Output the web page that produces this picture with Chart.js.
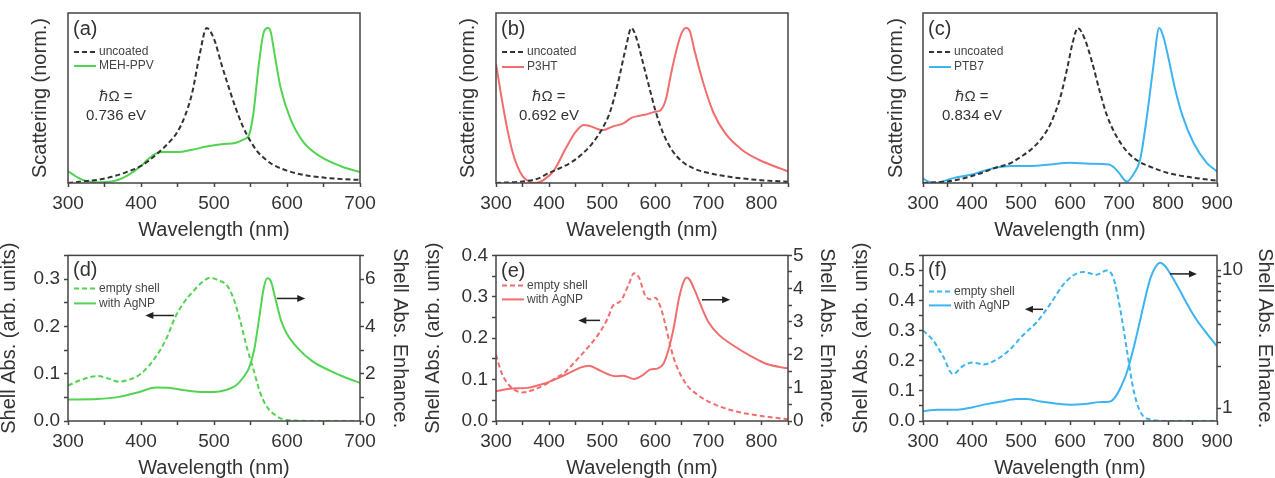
<!DOCTYPE html>
<html>
<head>
<meta charset="utf-8">
<script src="https://cdn.jsdelivr.net/npm/chart.js@4.4.1/dist/chart.umd.min.js"></script>
<style>
  body { margin: 0; background: #fff; width: 1275px; height: 478px; overflow: hidden; position: relative; }
  canvas { position: absolute; }
</style>
</head>
<body>
<canvas id="panelA"></canvas>
<canvas id="panelB"></canvas>
<canvas id="panelC"></canvas>
<canvas id="panelD"></canvas>
<canvas id="panelE"></canvas>
<canvas id="panelF"></canvas>
<script>
// ---- data ----
// (a) MEH-PPV
const aUncoatedWl = [300,320,340,360,380,400,420,440,450,460,470,480,490,500,510,520,530,540,550,560,570,580,600,625,650,675,700];
const aUncoated = [0.0,0.01,0.02,0.04,0.07,0.11,0.18,0.27,0.33,0.43,0.58,0.82,1.0,0.93,0.77,0.62,0.48,0.36,0.27,0.20,0.155,0.12,0.08,0.05,0.035,0.025,0.02];
const aPolymerWl = [300,310,320,340,360,380,400,410,420,430,450,470,490,510,530,540,548,554,561,568,574,578,582,591,605,623,646,673,700];
const aPolymer = [0.075,0.045,0.02,0.005,0.01,0.045,0.11,0.155,0.19,0.2,0.2,0.215,0.235,0.25,0.26,0.28,0.31,0.45,0.75,0.97,1.0,0.97,0.86,0.62,0.41,0.26,0.17,0.11,0.07];

// (b) P3HT
const bUncoatedWl = [300,350,380,400,420,440,460,480,500,515,530,545,555,565,575,590,600,615,630,650,675,700,750,800,850];
const bUncoated = [0.0,0.01,0.03,0.065,0.095,0.13,0.18,0.25,0.35,0.46,0.65,0.88,1.0,0.93,0.80,0.60,0.47,0.32,0.22,0.14,0.09,0.065,0.035,0.018,0.008];
const bPolymerWl = [300,310,320,330,340,350,365,375,390,410,430,450,465,475,490,500,520,540,555,565,580,600,610,620,630,640,650,658,665,675,690,710,732,763,795,850];
const bPolymer = [0.77,0.56,0.37,0.215,0.11,0.045,0.005,0.0,0.02,0.085,0.215,0.33,0.375,0.37,0.35,0.34,0.365,0.385,0.42,0.43,0.44,0.46,0.47,0.54,0.71,0.86,0.97,1.0,0.98,0.84,0.65,0.45,0.32,0.215,0.15,0.075];

// (c) PTB7
const cUncoatedWl = [300,330,350,400,450,480,500,520,540,560,580,595,605,616,630,645,660,675,690,705,720,740,760,800,850,900];
const cUncoated = [0.0,0.005,0.01,0.045,0.10,0.13,0.17,0.215,0.28,0.38,0.55,0.75,0.9,1.0,0.93,0.78,0.6,0.44,0.33,0.25,0.19,0.14,0.11,0.065,0.035,0.015];
const cPolymerWl = [300,310,325,340,360,400,450,480,520,560,600,640,680,690,700,716,730,743,757,770,782,790,800,815,830,852,879,900];
const cPolymer = [0.03,0.01,0.0,0.01,0.03,0.055,0.10,0.11,0.11,0.12,0.13,0.125,0.12,0.10,0.065,0.01,0.06,0.15,0.43,0.75,1.0,0.95,0.82,0.6,0.43,0.26,0.13,0.075];

// (d) empty shell (left axis) / with AgNP (right axis)
const dEmptyWl = [300,320,340,355,370,385,400,420,435,447,460,472,485,495,505,518,527,536,545,554,563,572,586,600,650,700];
const dEmpty = [0.075,0.088,0.095,0.09,0.083,0.088,0.10,0.135,0.175,0.22,0.253,0.275,0.295,0.303,0.298,0.286,0.258,0.211,0.156,0.109,0.061,0.031,0.01,0.002,0.0,0.0];
const dAgWl = [300,340,370,400,420,440,460,480,500,515,530,540,548,555,562,568,573,578,584,592,600,615,635,660,680,700];
const dAg = [0.91,0.93,1.02,1.25,1.42,1.40,1.30,1.23,1.23,1.30,1.50,1.84,2.25,3.0,4.37,5.6,6.03,5.9,5.18,4.23,3.68,3.07,2.52,2.11,1.84,1.61];

// (e)
const eEmptyWl = [300,310,320,335,350,370,390,410,430,450,470,490,510,520,535,550,560,570,580,590,600,610,620,630,640,660,680,700,740,780,850];
const eEmpty = [0.16,0.118,0.094,0.075,0.069,0.075,0.086,0.102,0.118,0.145,0.173,0.204,0.247,0.278,0.29,0.33,0.357,0.345,0.306,0.294,0.298,0.275,0.227,0.173,0.133,0.086,0.063,0.047,0.027,0.016,0.004];
const eAgWl = [300,330,360,380,400,420,440,460,475,490,510,525,540,560,575,590,605,615,625,635,645,655,660,665,675,690,700,720,750,780,810,850];
const eAg = [0.90,0.98,1.0,1.08,1.18,1.32,1.47,1.62,1.67,1.57,1.42,1.35,1.37,1.27,1.37,1.55,1.59,1.72,2.16,2.84,3.73,4.26,4.33,4.26,3.92,3.33,2.99,2.6,2.25,1.96,1.72,1.59];

// (f)
const fEmptyWl = [300,320,341,361,382,402,423,450,477,504,532,559,586,607,627,654,675,689,702,716,729,743,764,800,900];
const fEmpty = [0.301,0.269,0.215,0.156,0.183,0.194,0.188,0.204,0.237,0.285,0.328,0.387,0.452,0.484,0.495,0.486,0.5,0.473,0.376,0.237,0.108,0.032,0.005,0.0,0.0];
const fAgWl = [300,330,370,400,430,460,490,510,540,570,600,630,660,682,695,705,716,729,743,755,764,775,784,795,804,818,832,845,859,879,900];
const fAg = [0.947,0.973,0.973,1.01,1.067,1.115,1.164,1.164,1.115,1.079,1.056,1.067,1.103,1.115,1.24,1.45,1.81,2.65,4.3,6.6,8.7,10.6,11.3,10.6,9.47,7.8,6.3,5.2,4.32,3.47,2.8];

// tick values for the log axis of (f)
const fRightTicks = [1,2,3,4,5,6,7,8,9,10];
const fRightLabels = [1, 10];

// ---- styling ----
const TEXT = '#333';
const FRAME = '#444';
const GREEN = '#52d452';
const RED = '#f26d6d';
const BLUE = '#3cb4f0';
const BLACK = '#333';

Chart.defaults.font.family = '"Liberation Sans", Arial, sans-serif';
Chart.defaults.color = TEXT;

function pts(xs, ys) {
    return xs.map((x, i) => ({ x: x, y: ys[i] }));
}

function isTenth(v) {
    return Math.abs(v * 10 - Math.round(v * 10)) < 1e-6;
}

function dashed(label, color, xs, ys, axis) {
    return { label: label, data: pts(xs, ys), borderColor: color, borderDash: [5, 3], yAxisID: axis || 'y' };
}

function solid(label, color, xs, ys, axis) {
    return { label: label, data: pts(xs, ys), borderColor: color, borderDash: [], yAxisID: axis || 'y' };
}

function xAxis(max, height) {
    return {
        type: 'linear', position: 'bottom', min: 300, max: max,
        afterFit: s => { s.height = height; },
        ticks: {
            stepSize: 50, autoSkip: false, maxRotation: 0, padding: 5,
            font: { size: 19 }, color: TEXT,
            callback: v => (v % 100 === 0 ? String(v) : '')
        },
        grid: { drawOnChartArea: false, tickLength: 4, tickColor: FRAME, tickWidth: 1.5 },
        border: { display: false },
        title: { display: true, text: 'Wavelength (nm)', color: TEXT, font: { size: 20, lineHeight: 1 }, padding: 0 }
    };
}

function leftAxis(opts) {
    const axis = {
        type: 'linear', position: 'left', min: 0, max: opts.max,
        afterFit: s => { s.width = opts.width; },
        border: { display: false },
        title: { display: true, text: opts.title, color: TEXT, font: { size: 20, lineHeight: 1 }, padding: { top: opts.titlePad, bottom: 0 } }
    };
    if (opts.step) {
        axis.ticks = { stepSize: opts.step, autoSkip: false, padding: 4, font: { size: 19 }, color: TEXT,
            callback: v => (isTenth(v) ? v.toFixed(1) : '') };
        axis.grid = { drawOnChartArea: false, tickLength: 4, tickColor: FRAME, tickWidth: 1.5 };
    } else {
        axis.ticks = { display: false };
        axis.grid = { display: false };
    }
    return axis;
}

function rightAxis(opts) {
    const axis = {
        type: opts.log ? 'logarithmic' : 'linear', position: 'right', min: opts.min, max: opts.max,
        afterFit: s => { s.width = opts.width; },
        border: { display: false },
        grid: { drawOnChartArea: false, tickLength: 4, tickColor: FRAME, tickWidth: 1.5 },
        ticks: { autoSkip: false, padding: 1, font: { size: 19 }, color: TEXT, callback: opts.label },
        title: { display: true, text: 'Shell Abs. Enhance.', color: TEXT, font: { size: 20, lineHeight: 1 }, padding: { top: opts.titlePad, bottom: 0 } }
    };
    if (opts.log) {
        axis.afterBuildTicks = s => { s.ticks = fRightTicks.map(v => ({ value: v })); };
    } else {
        axis.ticks.stepSize = opts.step;
    }
    return axis;
}

// frame, panel letter, legend, notes and arrows
const panelDecor = {
    id: 'panelDecor',
    afterDatasetsDraw(chart, args, opts) {
        const { ctx, chartArea: a, scales } = chart;
        ctx.save();
        ctx.strokeStyle = FRAME;
        ctx.lineWidth = 1.5;
        ctx.setLineDash([]);
        ctx.strokeRect(a.left, a.top, a.right - a.left, a.bottom - a.top);

        ctx.fillStyle = TEXT;
        ctx.textBaseline = 'middle';
        ctx.textAlign = 'left';
        ctx.font = '20px "Liberation Sans", Arial, sans-serif';
        ctx.fillText(opts.letter, a.left + 5, a.top + opts.letterDy);

        // legend
        ctx.font = '12px "Liberation Sans", Arial, sans-serif';
        chart.data.datasets.forEach((ds, i) => {
            const y = a.top + opts.legendDy[i];
            ctx.strokeStyle = ds.borderColor;
            ctx.lineWidth = 2;
            ctx.setLineDash(ds.borderDash);
            ctx.beginPath();
            ctx.moveTo(a.left + 6, y);
            ctx.lineTo(a.left + 28, y);
            ctx.stroke();
            ctx.fillStyle = '#444';
            ctx.fillText(ds.label, a.left + 31, y);
        });
        ctx.setLineDash([]);

        // hbar-Omega note
        if (opts.note) {
            ctx.fillStyle = TEXT;
            ctx.textAlign = 'center';
            ctx.font = '15px "Liberation Sans", Arial, sans-serif';
            ctx.fillText(opts.note[0], a.left + opts.noteDx, a.top + 84);
            ctx.fillText(opts.note[1], a.left + opts.noteDx, a.top + 103);
        }

        // arrows pointing to the axis of each curve
        (opts.arrows || []).forEach(ar => {
            const x0 = scales.x.getPixelForValue(ar.from);
            const x1 = scales.x.getPixelForValue(ar.to);
            const y = scales[ar.axis].getPixelForValue(ar.v);
            const dir = Math.sign(x1 - x0);
            ctx.strokeStyle = '#222';
            ctx.fillStyle = '#222';
            ctx.lineWidth = 1.5;
            ctx.beginPath();
            ctx.moveTo(x0, y);
            ctx.lineTo(x1 - dir * 6, y);
            ctx.stroke();
            ctx.beginPath();
            ctx.moveTo(x1, y);
            ctx.lineTo(x1 - dir * 8, y - 3.5);
            ctx.lineTo(x1 - dir * 8, y + 3.5);
            ctx.closePath();
            ctx.fill();
        });
        ctx.restore();
    }
};

function makePanel(id, box, plot, datasets, scales, decor) {
    const canvas = document.getElementById(id);
    canvas.width = box.w;
    canvas.height = box.h;
    canvas.style.left = box.x + 'px';
    canvas.style.top = box.y + 'px';
    const hasRight = !!scales.y1;
    return new Chart(canvas, {
        type: 'line',
        data: { datasets: datasets },
        options: {
            responsive: false,
            animation: false,
            events: [],
            layout: {
                padding: { left: 0, bottom: 0, top: plot.t - box.y, right: hasRight ? 0 : box.x + box.w - plot.r }
            },
            elements: {
                point: { radius: 0 },
                line: { borderWidth: 2, cubicInterpolationMode: 'monotone', fill: false }
            },
            scales: scales,
            plugins: { legend: { display: false }, tooltip: { enabled: false }, panelDecor: decor }
        },
        plugins: [panelDecor]
    });
}

const NORM_MAX = 1.097;

// ---- top row: scattering ----
makePanel('panelA', { x: 0, y: 0, w: 425, h: 240 }, { l: 68, t: 13, r: 360 },
    [dashed('uncoated', BLACK, aUncoatedWl, aUncoated), solid('MEH-PPV', GREEN, aPolymerWl, aPolymer)],
    { x: xAxis(700, 57), y: leftAxis({ max: NORM_MAX, width: 68, title: 'Scattering (norm.)', titlePad: 30 }) },
    { letter: '(a)', letterDy: 16, legendDy: [39, 53], note: ['ℏΩ =', '0.736 eV'], noteDx: 48 });

makePanel('panelB', { x: 425, y: 0, w: 425, h: 240 }, { l: 496, t: 13, r: 788 },
    [dashed('uncoated', BLACK, bUncoatedWl, bUncoated), solid('P3HT', RED, bPolymerWl, bPolymer)],
    { x: xAxis(850, 57), y: leftAxis({ max: NORM_MAX, width: 71, title: 'Scattering (norm.)', titlePad: 33 }) },
    { letter: '(b)', letterDy: 16, legendDy: [39, 54], note: ['ℏΩ =', '0.692 eV'], noteDx: 53 });

makePanel('panelC', { x: 850, y: 0, w: 425, h: 240 }, { l: 923, t: 13, r: 1217 },
    [dashed('uncoated', BLACK, cUncoatedWl, cUncoated), solid('PTB7', BLUE, cPolymerWl, cPolymer)],
    { x: xAxis(900, 57), y: leftAxis({ max: NORM_MAX, width: 73, title: 'Scattering (norm.)', titlePad: 36 }) },
    { letter: '(c)', letterDy: 16, legendDy: [39, 54], note: ['ℏΩ =', '0.834 eV'], noteDx: 49 });

// ---- bottom row: shell absorption ----
makePanel('panelD', { x: 0, y: 240, w: 425, h: 238 }, { l: 68, t: 251, r: 360 },
    [dashed('empty shell', GREEN, dEmptyWl, dEmpty, 'y'), solid('with AgNP', GREEN, dAgWl, dAg, 'y1')],
    {
        x: xAxis(700, 57),
        y: leftAxis({ max: 0.35, step: 0.05, width: 68, title: 'Shell Abs. (arb. units)', titlePad: -1 }),
        y1: rightAxis({ min: 0, max: 7, step: 1, width: 65, titlePad: 15, label: v => (v % 2 === 0 ? String(v) : '') })
    },
    { letter: '(d)', letterDy: 15, legendDy: [33, 48],
      arrows: [{ axis: 'y', from: 445, to: 406, v: 0.223 }, { axis: 'y1', from: 586, to: 625, v: 5.18 }] });

makePanel('panelE', { x: 425, y: 240, w: 425, h: 238 }, { l: 496, t: 251, r: 788 },
    [dashed('empty shell', RED, eEmptyWl, eEmpty, 'y'), solid('with AgNP', RED, eAgWl, eAg, 'y1')],
    {
        x: xAxis(850, 57),
        y: leftAxis({ max: 0.4, step: 0.05, width: 71, title: 'Shell Abs. (arb. units)', titlePad: -2 }),
        y1: rightAxis({ min: 0, max: 5, step: 0.5, width: 62, titlePad: 13, label: v => (Number.isInteger(v) ? String(v) : '') })
    },
    { letter: '(e)', letterDy: 16, legendDy: [30, 44],
      arrows: [{ axis: 'y', from: 496, to: 455, v: 0.243 }, { axis: 'y1', from: 688, to: 741, v: 3.66 }] });

makePanel('panelF', { x: 850, y: 240, w: 425, h: 238 }, { l: 923, t: 251, r: 1217 },
    [dashed('empty shell', BLUE, fEmptyWl, fEmpty, 'y'), solid('with AgNP', BLUE, fAgWl, fAg, 'y1')],
    {
        x: xAxis(900, 57),
        y: leftAxis({ max: 0.55, step: 0.05, width: 73, title: 'Shell Abs. (arb. units)', titlePad: 1.5 }),
        y1: rightAxis({ log: true, min: 0.805, max: 12.76, width: 58, titlePad: 0,
            label: v => (fRightLabels.includes(v) ? String(v) : '') })
    },
    { letter: '(f)', letterDy: 15, legendDy: [36, 50],
      arrows: [{ axis: 'y', from: 545, to: 508, v: 0.371 }, { axis: 'y1', from: 804, to: 859, v: 9.37 }] });
</script>
</body>
</html>
